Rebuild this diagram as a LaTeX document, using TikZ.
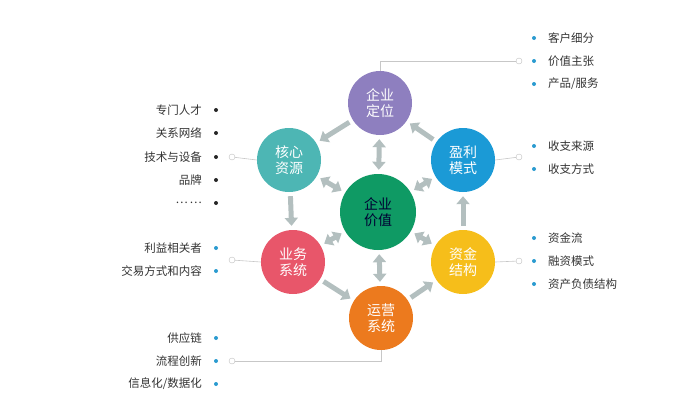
\documentclass[tikz,border=0pt]{standalone}
\usepackage{fontspec}
\newfontfamily\cjk{Noto Sans CJK SC}
\usetikzlibrary{arrows.meta}
\definecolor{cpurple}{HTML}{8E7FBF}
\definecolor{cteal}{HTML}{4DB6B4}
\definecolor{cblue}{HTML}{1B9AD6}
\definecolor{cred}{HTML}{E8566A}
\definecolor{cyellow}{HTML}{F6BE1A}
\definecolor{corange}{HTML}{EC7A1E}
\definecolor{cgreen}{HTML}{0F9A64}
\definecolor{carrow}{HTML}{B3BFBF}
\definecolor{cdot}{HTML}{2A9BD0}
\definecolor{ctext}{HTML}{333333}
\tikzset{
  circ/.style={circle,minimum size=64pt,inner sep=0pt,text=white,font=\cjk\fontsize{14}{16}\selectfont,align=center},
  arr/.style={draw=carrow,line width=5pt,-{Triangle[width=13pt,length=8pt]},shorten >=4pt,shorten <=4pt},
  barr/.style={draw=carrow,line width=5pt,{Triangle[width=13pt,length=8pt]}-{Triangle[width=13pt,length=8pt]},shorten >=4pt,shorten <=4pt},
  item/.style={font=\cjk\fontsize{11.5}{13}\selectfont,text=ctext,inner sep=0pt},
  bdot/.style={circle,fill=cdot,minimum size=4pt,inner sep=0pt},
  kdot/.style={circle,fill=black!85,minimum size=4pt,inner sep=0pt},
  link/.style={draw=black!22,line width=0.6pt},
  ring/.style={circle,draw=black!25,fill=white,minimum size=6pt,inner sep=0pt}
}
\begin{document}
\begin{tikzpicture}[x=1pt,y=-1pt]
\useasboundingbox (0,0) rectangle (700,405);
\node[circ,fill=cpurple] (pos) at (380,103) {企业\\定位};
\node[circ,fill=cteal] (res) at (289,160) {核心\\资源};
\node[circ,fill=cblue] (prof) at (463,160) {盈利\\模式};
\node[circ,fill=cred] (bus) at (293,262) {业务\\系统};
\node[circ,fill=cyellow] (fin) at (463,262) {资金\\结构};
\node[circ,fill=corange] (ops) at (381,318) {运营\\系统};
\node[circ,fill=cgreen,minimum size=76pt,text=black!80!blue] (val) at (378,212) {企业\\价值};
% cycle arrows
\draw[arr] (pos) -- (res);
\draw[arr] (res) -- (bus);
\draw[arr] (bus) -- (ops);
\draw[arr] (ops) -- (fin);
\draw[arr] (fin) -- (prof);
\draw[arr] (prof) -- (pos);
% center arrows
\foreach \n in {pos,res,prof,bus,fin,ops}{\draw[barr] (val) -- (\n);}
% top right list
\coordinate (r1) at (519,61);
\draw[link] (pos.north) |- (r1);
\node[ring] (r1c) at (r1) {};
\foreach \t/\y [count=\i] in {客户细分/38,价值主张/61,{产品/服务}/84}{
  \node[bdot] (d1\i) at (534,\y) {}; \node[item,anchor=west] (t1\i) at (548,\y) {\t};}
% blue list
\node[ring] (r2c) at (519,157) {};
\draw[link] (prof.east) -- (r2c);
\foreach \t/\y [count=\i] in {收支来源/146,收支方式/169}{
  \node[bdot] (d2\i) at (534,\y) {}; \node[item,anchor=west] (t2\i) at (548,\y) {\t};}
% yellow list
\node[ring] (r3c) at (519,261) {};
\draw[link] (fin.east) -- (r3c);
\foreach \t/\y [count=\i] in {资金流/238,融资模式/261,资产负债结构/284}{
  \node[bdot] (d3\i) at (534,\y) {}; \node[item,anchor=west] (t3\i) at (548,\y) {\t};}
% teal list
\node[ring] (r4c) at (232,157) {};
\draw[link] (res.west) -- (r4c);
\foreach \t/\y [count=\i] in {专门人才/110,关系网络/133,技术与设备/157,品牌/180,{…\,…}/203}{
  \node[kdot] (d4\i) at (216,\y) {}; \node[item,anchor=east] (t4\i) at (202,\y) {\t};}
% red list
\node[ring] (r5c) at (232,260) {};
\draw[link] (bus.west) -- (r5c);
\foreach \t/\y [count=\i] in {利益相关者/248,交易方式和内容/271}{
  \node[bdot] (d5\i) at (216,\y) {}; \node[item,anchor=east] (t5\i) at (202,\y) {\t};}
% orange list
\coordinate (r6) at (232,361);
\draw[link] (ops.south) |- (r6);
\node[ring] (r6c) at (r6) {};
\foreach \t/\y [count=\i] in {供应链/338,流程创新/361,{信息化/数据化}/384}{
  \node[bdot] (d6\i) at (216,\y) {}; \node[item,anchor=east] (t6\i) at (202,\y) {\t};}
\end{tikzpicture}
\end{document}
